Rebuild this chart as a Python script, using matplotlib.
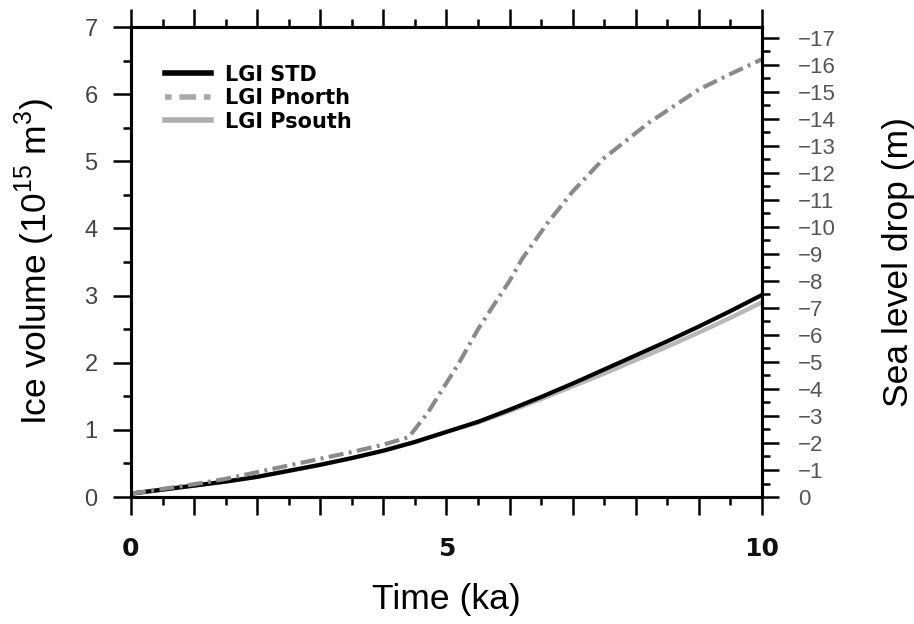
import matplotlib
matplotlib.use('Agg')
import matplotlib.pyplot as plt
from matplotlib.ticker import MultipleLocator
from matplotlib.lines import Line2D

# time (ka) and ice volume (10^15 m^3)
t_std = [0, 0.5, 1, 1.5, 2, 2.5, 3, 3.5, 4, 4.5, 5, 5.5, 6, 6.5, 7, 7.5, 8, 8.5, 9, 9.5, 10]
v_std = [0.05, 0.11, 0.17, 0.23, 0.30, 0.39, 0.48, 0.58, 0.69, 0.82, 0.97, 1.12, 1.30, 1.49, 1.69, 1.90, 2.11, 2.32, 2.54, 2.77, 3.01]

t_south = t_std
v_south = [0.05, 0.11, 0.17, 0.23, 0.30, 0.39, 0.48, 0.58, 0.69, 0.82, 0.97, 1.11, 1.28, 1.46, 1.65, 1.84, 2.04, 2.24, 2.45, 2.67, 2.90]

t_north = [0, 0.5, 1, 1.5, 2, 2.5, 3, 3.5, 4, 4.4, 4.7, 5.0, 5.2, 5.5, 6.0, 6.2, 6.6, 7.0, 7.5, 8.2, 9.0, 9.5, 10]
v_north = [0.05, 0.12, 0.19, 0.27, 0.37, 0.47, 0.57, 0.67, 0.78, 0.89, 1.25, 1.70, 2.0, 2.50, 3.22, 3.55, 4.08, 4.55, 5.05, 5.57, 6.07, 6.30, 6.52]

labels = ['LGI STD', 'LGI Pnorth', 'LGI Psouth']
xticks = list(range(0, 11))
xtick_labels = ['0', '', '', '', '', '5', '', '', '', '', '10']

VOL_MAX = 7
SEA_MAX = 17.4  # m of sea level for 7e15 m3

plt.rcParams['font.family'] = 'Liberation Sans'
plt.rcParams['mathtext.fontset'] = 'custom'
plt.rcParams['mathtext.rm'] = 'Liberation Sans'

fig = plt.figure(figsize=(9.14, 6.24), dpi=100)
ax = fig.add_axes([0.1433, 0.2035, 0.6904, 0.7532])
ax2 = ax.twinx()

ax.plot(t_std, v_std, color='black', lw=3.0, solid_capstyle='butt', zorder=3)
ax.plot(t_south, v_south, color='#b8b8b8', lw=3.2, solid_capstyle='butt', zorder=2)
ax.plot(t_north, v_north, color='#8a8a8a', lw=3.0, linestyle=(0, (3.6, 1.3, 0.7, 1.3)), zorder=4)

ax.set_xlim(0, 10)
ax.set_ylim(0, VOL_MAX)
ax2.set_ylim(0, -SEA_MAX)

for s in list(ax.spines.values()) + list(ax2.spines.values()):
    s.set_linewidth(2.2)

ax.set_xticks(xticks, xtick_labels, fontweight='bold', family='DejaVu Sans', fontsize=18)
ax.xaxis.set_minor_locator(MultipleLocator(0.5))
ax.yaxis.set_major_locator(MultipleLocator(1))
ax.yaxis.set_minor_locator(MultipleLocator(0.5))
ax2.yaxis.set_major_locator(MultipleLocator(1))
ax2.yaxis.set_minor_locator(MultipleLocator(0.5))

ax.tick_params(axis='x', which='both', direction='out', top=True, width=1.8)
ax.tick_params(axis='x', which='major', length=13, pad=16, labelcolor='#111111')
ax.tick_params(axis='x', which='minor', length=6)
ax.tick_params(axis='y', which='both', direction='out', width=1.8)
ax.tick_params(axis='y', which='major', length=13, pad=11, labelsize=17, labelcolor='#444444')
ax.tick_params(axis='y', which='minor', length=6)
ax2.tick_params(axis='y', which='both', direction='out', width=1.8)
ax2.tick_params(axis='y', which='major', length=12, pad=14, labelsize=16, labelcolor='#555555')
ax2.tick_params(axis='y', which='minor', length=6)

ax.set_xlabel('Time (ka)', fontsize=25.5)
ax.set_ylabel('Ice volume (10$^{15}$ m$^{3}$)', fontsize=25.5)
ax2.set_ylabel('Sea level drop (m)', fontsize=25.5)
ax.xaxis.set_label_coords(0.5, -0.183)
ax.yaxis.set_label_coords(-0.118, 0.5)
ax2.yaxis.set_label_coords(1.19, 0.5)

handles = [Line2D([], [], color='black', lw=4),
           Line2D([], [], color='#a8a8a8', lw=4, linestyle=(0, (1.2, 1.4, 3.0, 1.4))),
           Line2D([], [], color='#b0b0b0', lw=4)]
ax.legend(handles, labels, loc='upper left', bbox_to_anchor=(0.054, 0.92),
          frameon=False, borderpad=0, borderaxespad=0, handlelength=2.2,
          handletextpad=0.7, labelspacing=0.17,
          prop={'family': 'DejaVu Sans', 'weight': 'bold', 'size': 15})

fig.savefig('out.png', dpi=100)
